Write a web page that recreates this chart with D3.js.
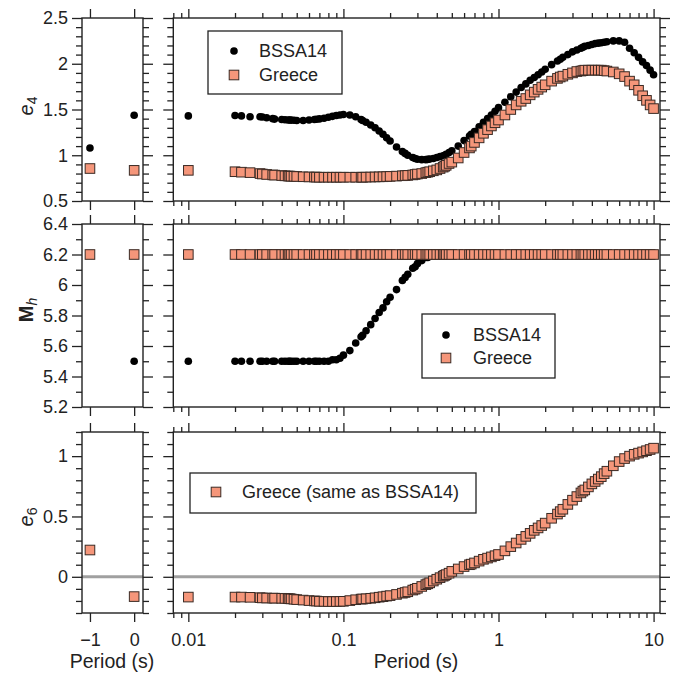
<!DOCTYPE html>
<html>
<head>
<meta charset="utf-8">
<script src="https://cdn.jsdelivr.net/npm/d3@7"></script>
<style>
  html, body { margin: 0; padding: 0; background: #fff; }
  svg text { font-family: "Liberation Sans", Arial, Helvetica, sans-serif; fill: #222; }
</style>
</head>
<body>
<script>
// Spectral periods (s) of the BSSA14 coefficient table
const periods = [
  0.01, 0.02, 0.022, 0.025, 0.029, 0.03, 0.032, 0.035, 0.036, 0.04,
  0.042, 0.044, 0.045, 0.046, 0.048, 0.05, 0.055, 0.06, 0.065, 0.067,
  0.07, 0.075, 0.08, 0.085, 0.09, 0.095, 0.1, 0.11, 0.12, 0.13,
  0.133, 0.14, 0.15, 0.16, 0.17, 0.18, 0.19, 0.2, 0.22, 0.24,
  0.25, 0.26, 0.28, 0.29, 0.3, 0.32, 0.34, 0.35, 0.36, 0.38,
  0.4, 0.42, 0.44, 0.45, 0.46, 0.48, 0.5, 0.55, 0.6, 0.65,
  0.667, 0.7, 0.75, 0.8, 0.85, 0.9, 0.95, 1, 1.1, 1.2,
  1.3, 1.4, 1.5, 1.6, 1.7, 1.8, 1.9, 2, 2.2, 2.4,
  2.5, 2.6, 2.8, 3, 3.2, 3.4, 3.5, 3.6, 3.8, 4,
  4.2, 4.4, 4.6, 4.8, 5, 5.5, 6, 6.5, 7, 7.5,
  8, 8.5, 9, 9.5, 10
];

// e4 coefficient
const e4Bssa = [
  1.43, 1.435, 1.43, 1.42, 1.42, 1.418, 1.41, 1.40, 1.395, 1.39,
  1.388, 1.386, 1.385, 1.384, 1.382, 1.38, 1.38, 1.385, 1.39, 1.393,
  1.397, 1.405, 1.415, 1.425, 1.435, 1.44, 1.445, 1.44, 1.42, 1.39,
  1.38, 1.36, 1.33, 1.30, 1.265, 1.23, 1.19, 1.155, 1.09, 1.04,
  1.02, 1.0, 0.975, 0.965, 0.957, 0.952, 0.952, 0.955, 0.958, 0.965,
  0.975, 0.985, 0.995, 1.0, 1.01, 1.03, 1.05, 1.10, 1.16, 1.21,
  1.23, 1.26, 1.31, 1.36, 1.40, 1.44, 1.48, 1.52, 1.58, 1.64,
  1.69, 1.74, 1.78, 1.82, 1.85, 1.88, 1.91, 1.94, 1.99, 2.03,
  2.05, 2.07, 2.10, 2.13, 2.15, 2.17, 2.18, 2.19, 2.20, 2.21,
  2.22, 2.225, 2.23, 2.235, 2.24, 2.25, 2.25, 2.235, 2.17, 2.12,
  2.07, 2.02, 1.98, 1.93, 1.88
];
const e4Greece = [
  0.835, 0.82, 0.815, 0.81, 0.80, 0.795, 0.79, 0.785, 0.783, 0.778,
  0.775, 0.773, 0.772, 0.771, 0.77, 0.768, 0.765, 0.763, 0.762, 0.761,
  0.76, 0.76, 0.76, 0.76, 0.76, 0.76, 0.76, 0.76, 0.76, 0.76,
  0.76, 0.761, 0.762, 0.763, 0.764, 0.765, 0.767, 0.769, 0.772, 0.776,
  0.778, 0.78, 0.785, 0.79, 0.795, 0.80, 0.81, 0.815, 0.82, 0.83,
  0.84, 0.855, 0.87, 0.88, 0.89, 0.91, 0.925, 0.97, 1.03, 1.08,
  1.10, 1.14, 1.19, 1.24, 1.28, 1.32, 1.355, 1.385, 1.44, 1.50,
  1.55, 1.59, 1.62, 1.66, 1.69, 1.72, 1.745, 1.77, 1.81, 1.84,
  1.855, 1.865, 1.885, 1.90, 1.915, 1.92, 1.925, 1.93, 1.93, 1.93,
  1.93, 1.93, 1.93, 1.925, 1.92, 1.91, 1.89, 1.86, 1.81, 1.77,
  1.71, 1.65, 1.60, 1.55, 1.51
];

// Hinge magnitude Mh
const mhBssa = [
  5.5, 5.5, 5.5, 5.5, 5.5, 5.5, 5.5, 5.5, 5.5, 5.5,
  5.5, 5.5, 5.5, 5.5, 5.5, 5.5, 5.5, 5.5, 5.5, 5.5,
  5.5, 5.5, 5.5, 5.51, 5.51, 5.52, 5.54, 5.57, 5.62, 5.66,
  5.67, 5.70, 5.74, 5.78, 5.82, 5.85, 5.89, 5.92, 5.97, 6.03,
  6.05, 6.07, 6.11, 6.12, 6.14, 6.16, 6.18, 6.18, 6.19, 6.19,
  6.2, 6.2, 6.2, 6.2, 6.2, 6.2, 6.2, 6.2, 6.2, 6.2,
  6.2, 6.2, 6.2, 6.2, 6.2, 6.2, 6.2, 6.2, 6.2, 6.2,
  6.2, 6.2, 6.2, 6.2, 6.2, 6.2, 6.2, 6.2, 6.2, 6.2,
  6.2, 6.2, 6.2, 6.2, 6.2, 6.2, 6.2, 6.2, 6.2, 6.2,
  6.2, 6.2, 6.2, 6.2, 6.2, 6.2, 6.2, 6.2, 6.2, 6.2,
  6.2, 6.2, 6.2, 6.2, 6.2
];
const mhGreece = [
  6.2, 6.2, 6.2, 6.2, 6.2, 6.2, 6.2, 6.2, 6.2, 6.2,
  6.2, 6.2, 6.2, 6.2, 6.2, 6.2, 6.2, 6.2, 6.2, 6.2,
  6.2, 6.2, 6.2, 6.2, 6.2, 6.2, 6.2, 6.2, 6.2, 6.2,
  6.2, 6.2, 6.2, 6.2, 6.2, 6.2, 6.2, 6.2, 6.2, 6.2,
  6.2, 6.2, 6.2, 6.2, 6.2, 6.2, 6.2, 6.2, 6.2, 6.2,
  6.2, 6.2, 6.2, 6.2, 6.2, 6.2, 6.2, 6.2, 6.2, 6.2,
  6.2, 6.2, 6.2, 6.2, 6.2, 6.2, 6.2, 6.2, 6.2, 6.2,
  6.2, 6.2, 6.2, 6.2, 6.2, 6.2, 6.2, 6.2, 6.2, 6.2,
  6.2, 6.2, 6.2, 6.2, 6.2, 6.2, 6.2, 6.2, 6.2, 6.2,
  6.2, 6.2, 6.2, 6.2, 6.2, 6.2, 6.2, 6.2, 6.2, 6.2,
  6.2, 6.2, 6.2, 6.2, 6.2
];

// e6 coefficient (Greece uses the BSSA14 values)
const e6Greece = [
  -0.168, -0.168, -0.168, -0.17, -0.173, -0.175, -0.176, -0.177, -0.177, -0.178,
  -0.179, -0.181, -0.182, -0.183, -0.186, -0.189, -0.193, -0.197, -0.200, -0.201,
  -0.203, -0.204, -0.205, -0.205, -0.205, -0.204, -0.203, -0.197, -0.19, -0.185,
  -0.184, -0.182, -0.178, -0.174, -0.169, -0.165, -0.16, -0.156, -0.146, -0.136,
  -0.13, -0.124, -0.11, -0.103, -0.095, -0.08, -0.065, -0.058, -0.05, -0.035,
  -0.02, -0.007, 0.005, 0.012, 0.018, 0.03, 0.045, 0.065, 0.085, 0.10,
  0.105, 0.115, 0.13, 0.145, 0.155, 0.165, 0.175, 0.185, 0.215, 0.25,
  0.28, 0.31, 0.335, 0.36, 0.385, 0.405, 0.425, 0.445, 0.485, 0.52,
  0.54, 0.56, 0.60, 0.635, 0.665, 0.695, 0.71, 0.72, 0.745, 0.77,
  0.79, 0.81, 0.83, 0.855, 0.875, 0.92, 0.955, 0.98, 1.0, 1.015,
  1.025, 1.035, 1.045, 1.055, 1.066
];

// PGV (-1) and PGA (0) entries
const pgvPga = [-1, 0];
const e4BssaPgvPga = [1.08, 1.437];
const e4GreecePgvPga = [0.855, 0.835];
const mhBssaPgvPga = [6.2, 5.5];
const mhGreecePgvPga = [6.2, 6.2];
const e6GreecePgvPga = [0.222, -0.164];

// Tick values
const leftXTicks = [-1, 0];
const mainXMajor = [0.01, 0.1, 1, 10];
const mainXMinor = [0.008, 0.009,
  0.02, 0.03, 0.04, 0.05, 0.06, 0.07, 0.08, 0.09,
  0.2, 0.3, 0.4, 0.5, 0.6, 0.7, 0.8, 0.9,
  2, 3, 4, 5, 6, 7, 8, 9];
const e4Major = [0.5, 1, 1.5, 2, 2.5];
const e4Minor = [0.6, 0.7, 0.8, 0.9, 1.1, 1.2, 1.3, 1.4, 1.6, 1.7, 1.8, 1.9, 2.1, 2.2, 2.3, 2.4];
const mhMajor = [5.2, 5.4, 5.6, 5.8, 6, 6.2, 6.4];
const mhMinor = [5.3, 5.5, 5.7, 5.9, 6.1, 6.3];
const e6Major = [0, 0.5, 1];
const e6Minor = [-0.3, -0.2, -0.1, 0.1, 0.2, 0.3, 0.4, 0.6, 0.7, 0.8, 0.9, 1.1, 1.2];

const W = 678, H = 677;
const INK = "#222";
const FILL = "#f5967a";
const SQ_STROKE = "#3a2a24";

const svg = d3.select("body").append("svg")
  .attr("width", W).attr("height", H)
  .attr("viewBox", `0 0 ${W} ${H}`);

const leftX = d3.scaleLinear().domain([-1.18, 0.2]).range([82, 143]);
const mainX = d3.scaleLog().domain([0.008, 11]).range([173.3, 660]);

const panels = [
  { key: "e4", range: [201, 18], domain: [0.5, 2.5], major: e4Major, minor: e4Minor },
  { key: "mh", range: [407, 224], domain: [5.2, 6.4], major: mhMajor, minor: mhMinor },
  { key: "e6", range: [613, 432], domain: [-0.3, 1.2], major: e6Major, minor: e6Minor }
];
panels.forEach(p => { p.y = d3.scaleLinear().domain(p.domain).range(p.range); });

function styleAxis(g) {
  g.select(".domain").remove();
  g.selectAll(".tick line").attr("stroke", INK).attr("stroke-width", 1.3);
  g.selectAll(".tick text").attr("font-size", 18).attr("fill", INK);
}

function drawAxis(x0, y0, axis) {
  const g = svg.append("g").attr("transform", `translate(${x0},${y0})`).call(axis);
  styleAxis(g);
  return g;
}

const fmtY = d => d3.format("")(d).replace("-", "\u2212");

panels.forEach((p, i) => {
  const isLast = i === panels.length - 1;
  const top = p.range[1], bottom = p.range[0];

  [[leftX, 82, 143], [mainX, 173.3, 660]].forEach(([xs, xl, xr], k) => {
    const isLeft = k === 0;
    // y ticks: outward on both sides
    drawAxis(xl, 0, d3.axisLeft(p.y).tickValues(p.major).tickSize(10).tickPadding(4)
      .tickFormat(isLeft ? fmtY : ""));
    drawAxis(xl, 0, d3.axisLeft(p.y).tickValues(p.minor).tickSize(6).tickFormat(""));
    drawAxis(xr, 0, d3.axisRight(p.y).tickValues(p.major).tickSize(10).tickFormat(""));
    drawAxis(xr, 0, d3.axisRight(p.y).tickValues(p.minor).tickSize(6).tickFormat(""));

    // x ticks: outward on top and bottom
    const major = isLeft ? leftXTicks : mainXMajor;
    const fmtX = isLeft ? (d => String(d).replace("-", "\u2212")) : (d => String(d));
    drawAxis(0, top, d3.axisTop(xs).tickValues(major).tickSize(9).tickFormat(""));
    drawAxis(0, bottom, d3.axisBottom(xs).tickValues(major).tickSize(9).tickPadding(11)
      .tickFormat(isLast ? fmtX : ""));
    if (!isLeft) {
      drawAxis(0, top, d3.axisTop(xs).tickValues(mainXMinor).tickSize(5).tickFormat(""));
      drawAxis(0, bottom, d3.axisBottom(xs).tickValues(mainXMinor).tickSize(5).tickFormat(""));
    }

    // zero reference line in the e6 panel
    if (p.key === "e6") {
      svg.append("line")
        .attr("x1", xl).attr("x2", xr)
        .attr("y1", p.y(0)).attr("y2", p.y(0))
        .attr("stroke", "#a0a0a0").attr("stroke-width", 3);
    }
  });
});

// Markers
function circles(xs, ys, xv, yv) {
  svg.append("g").selectAll("circle")
    .data(xv.map((x, i) => [x, yv[i]]))
    .join("circle")
    .attr("cx", d => xs(d[0])).attr("cy", d => ys(d[1]))
    .attr("r", 3.8).attr("fill", "#000");
}
function squares(xs, ys, xv, yv) {
  const s = 9.6;
  svg.append("g").selectAll("rect")
    .data(xv.map((x, i) => [x, yv[i]]))
    .join("rect")
    .attr("x", d => xs(d[0]) - s / 2).attr("y", d => ys(d[1]) - s / 2)
    .attr("width", s).attr("height", s)
    .attr("fill", FILL).attr("stroke", SQ_STROKE).attr("stroke-width", 1);
}

const [pE4, pMh, pE6] = panels;
circles(leftX, pE4.y, pgvPga, e4BssaPgvPga);
squares(leftX, pE4.y, pgvPga, e4GreecePgvPga);
circles(mainX, pE4.y, periods, e4Bssa);
squares(mainX, pE4.y, periods, e4Greece);

circles(leftX, pMh.y, pgvPga, mhBssaPgvPga);
squares(leftX, pMh.y, pgvPga, mhGreecePgvPga);
circles(mainX, pMh.y, periods, mhBssa);
squares(mainX, pMh.y, periods, mhGreece);

squares(leftX, pE6.y, pgvPga, e6GreecePgvPga);
squares(mainX, pE6.y, periods, e6Greece);

// Panel frames
panels.forEach(p => {
  [[82, 143], [173.3, 660]].forEach(([xl, xr]) => {
    svg.append("rect")
      .attr("x", xl).attr("y", p.range[1])
      .attr("width", xr - xl).attr("height", p.range[0] - p.range[1])
      .attr("fill", "none").attr("stroke", INK).attr("stroke-width", 1.4);
  });
});

// Legends
function legend(x, y, w, h, items) {
  const g = svg.append("g");
  g.append("rect").attr("x", x).attr("y", y).attr("width", w).attr("height", h)
    .attr("fill", "#fff").attr("stroke", INK).attr("stroke-width", 1.3);
  items.forEach(it => {
    if (it.shape === "circle") {
      g.append("circle").attr("cx", it.mx).attr("cy", it.my).attr("r", 3.8).attr("fill", "#000");
    } else {
      g.append("rect").attr("x", it.mx - 4.8).attr("y", it.my - 4.8)
        .attr("width", 9.6).attr("height", 9.6)
        .attr("fill", FILL).attr("stroke", SQ_STROKE).attr("stroke-width", 1);
    }
    g.append("text").attr("x", it.tx).attr("y", it.my + 6.3)
      .attr("font-size", 18).text(it.label);
  });
}
legend(208, 31, 134, 63, [
  { shape: "circle", mx: 234, my: 51, tx: 259, label: "BSSA14" },
  { shape: "square", mx: 234, my: 75, tx: 259, label: "Greece" }
]);
legend(422, 314, 133, 64, [
  { shape: "circle", mx: 446, my: 335, tx: 473, label: "BSSA14" },
  { shape: "square", mx: 446, my: 358, tx: 473, label: "Greece" }
]);
legend(190, 473, 286, 40, [
  { shape: "square", mx: 216, my: 492, tx: 242, label: "Greece (same as BSSA14)" }
]);

// Axis titles
function yTitle(cy, build) {
  const t = svg.append("text")
    .attr("transform", `translate(33,${cy}) rotate(-90)`)
    .attr("text-anchor", "middle")
    .attr("font-size", 20);
  build(t);
}
yTitle(106, t => {
  t.append("tspan").attr("font-style", "italic").text("e");
  t.append("tspan").attr("font-size", 14).attr("dy", 4).text("4");
});
yTitle(310, t => {
  t.append("tspan").attr("font-weight", "bold").text("M");
  t.append("tspan").attr("font-style", "italic").attr("font-size", 14).attr("dy", 4).text("h");
});
yTitle(517, t => {
  t.append("tspan").attr("font-style", "italic").text("e");
  t.append("tspan").attr("font-size", 14).attr("dy", 4).text("6");
});

svg.append("text").attr("x", 112).attr("y", 668).attr("text-anchor", "middle")
  .attr("font-size", 19.5).text("Period (s)");
svg.append("text").attr("x", 416).attr("y", 668).attr("text-anchor", "middle")
  .attr("font-size", 19.5).text("Period (s)");
</script>
</body>
</html>
